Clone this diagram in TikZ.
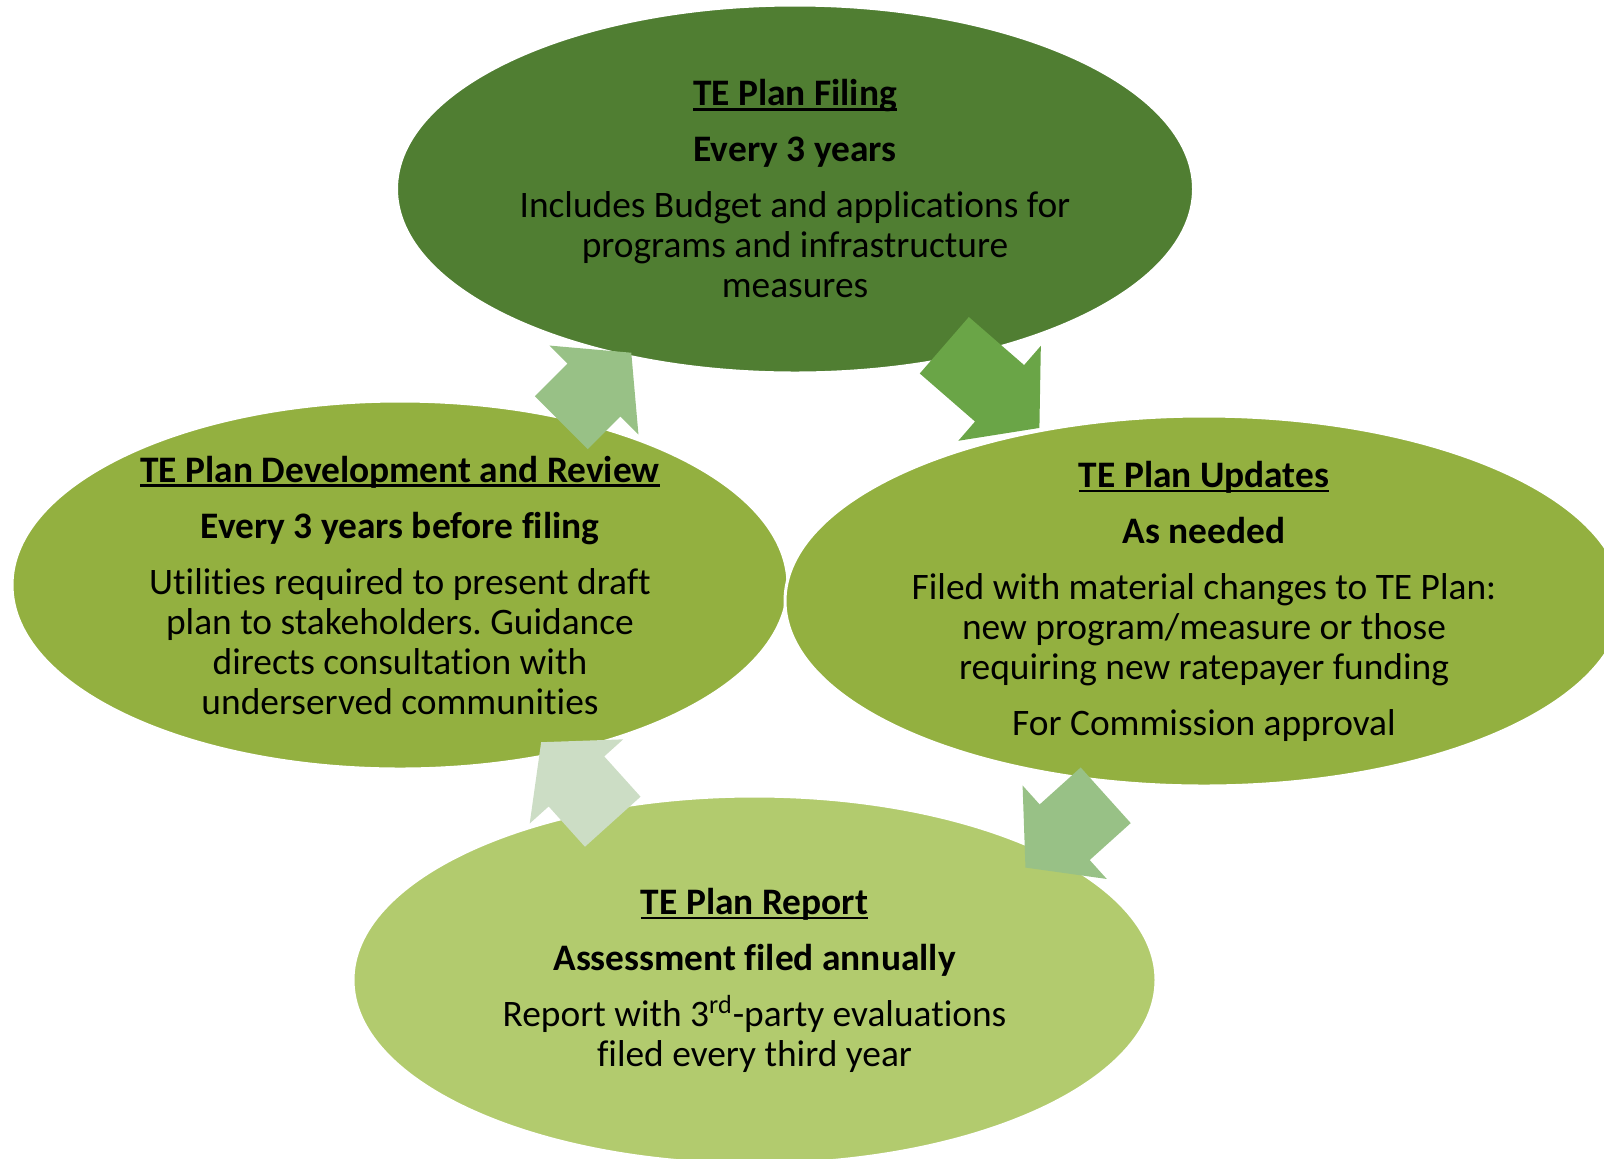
\documentclass[tikz,border=0pt]{standalone}
\usepackage{fontspec}
\setmainfont{Carlito}[Ligatures=NoCommon]
\usetikzlibrary{shapes.geometric,shapes.arrows}
\frenchspacing

\definecolor{filingcol}{HTML}{507E32}
\definecolor{stagecol}{HTML}{93B040}
\definecolor{reportcol}{HTML}{B2CB6E}
\definecolor{darkflow}{HTML}{6AA547}
\definecolor{midflow}{HTML}{98C186}
\definecolor{paleflow}{HTML}{CCDDC5}

\newcommand{\ultitle}[1]{\setbox0\hbox{\bfseries #1}\rlap{\rule[-2.4pt]{\wd0}{1.2pt}}\box0}

\begin{document}
\begin{tikzpicture}[x=0.5pt,y=-0.5pt,
  phase/.style={ellipse,draw=white,line width=1.5pt,inner sep=0pt},
  flow/.style={single arrow,draw=none,inner xsep=0pt,inner ysep=18.5pt,
    single arrow head extend=12.75pt,single arrow tip angle=100,anchor=tail},
  txt/.style={align=center,font=\fontsize{18.7}{20}\selectfont}]
\useasboundingbox (0,0) rectangle (1604,1158);
\clip (0,0) rectangle (1604,1158);

% phases
\node[phase, fill=filingcol, minimum width=398.5pt, minimum height=184pt] (filing) at (795,189) {};
\node[phase, fill=stagecol, minimum width=388pt, minimum height=184pt] (review) at (400,585) {};
\node[phase, fill=stagecol, minimum width=419pt, minimum height=185pt] (updates) at (1204,601) {};
\node[phase, fill=reportcol, minimum width=401.5pt, minimum height=184pt] (report) at (754.5,980) {};

\node[txt] (filing-text) at (filing) {\ultitle{TE Plan Filing}\\[8pt]
  \textbf{Every 3 years}\\[8pt]
  Includes Budget and applications for\\ programs and infrastructure\\ measures};
\node[txt] (review-text) at (review) {\ultitle{TE Plan Development and Review}\\[8pt]
  \textbf{Every 3 years before filing}\\[8pt]
  Utilities required to present draft\\ plan to stakeholders. Guidance\\
  directs consultation with\\ underserved communities};
\node[txt] (updates-text) at (updates) {\ultitle{TE Plan Updates}\\[8pt]
  \textbf{As needed}\\[8pt]
  Filed with material changes to TE Plan:\\ new program/measure or those\\
  requiring new ratepayer funding\\[8pt] For Commission approval};
\node[txt] (report-text) at (report) {\ultitle{TE Plan Report}\\[8pt]
  \textbf{Assessment filed annually}\\[8pt]
  Report with 3\textsuperscript{rd}-party evaluations\\ filed every third year};

% cycle arrows
\foreach \n/\x/\y/\a/\l/\c in {toupdates/944/345/-41/63/darkflow,
    toreport/1106/795/-138/54/midflow,
    toreview/613/822/132/53.5/paleflow,
    tofiling/561/423/45/49.5/midflow} {
  \node[flow, fill=\c, rotate=\a, minimum height=\l pt] (\n) at (\x,\y) {};
}
\end{tikzpicture}
\end{document}
